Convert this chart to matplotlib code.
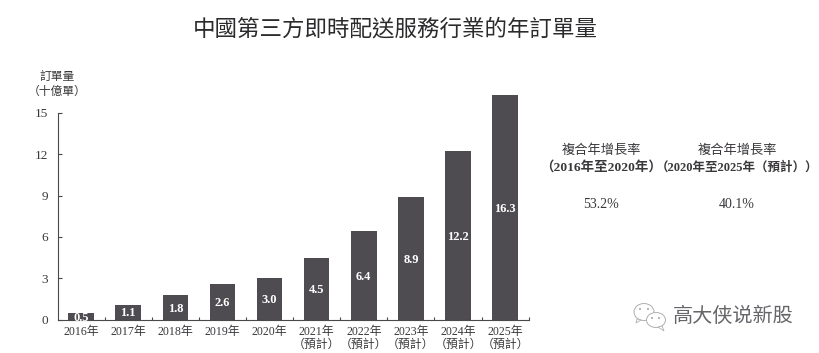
import matplotlib
matplotlib.use("Agg")
import matplotlib.pyplot as plt
from matplotlib.patches import Ellipse, Polygon

plt.rcParams['font.family'] = ['Liberation Serif', 'Noto Sans CJK TC', 'DejaVu Sans']

years = ["2016年", "2017年", "2018年", "2019年", "2020年",
         "2021年\n（預計）", "2022年\n（預計）", "2023年\n（預計）", "2024年\n（預計）", "2025年\n（預計）"]
orders = [0.5, 1.1, 1.8, 2.6, 3.0, 4.5, 6.4, 8.9, 12.2, 16.3]
y_ticks = [0, 3, 6, 9, 12, 15]
title = "中國第三方即時配送服務行業的年訂單量"
y_title = "訂單量\n（十億單）"
cagr_heads = ["複合年增長率\n（2016年至2020年）", "複合年增長率\n（2020年至2025年（預計））"]
cagr_vals = ["53.2%", "40.1%"]
watermark = "高大侠说新股"

W, H = 819, 353
DARK = "#4e4c51"
TEXT = "#3a383b"

fig = plt.figure(figsize=(W / 100, H / 100), dpi=100, facecolor="white")
ax = fig.add_axes([57.5 / W, 1 - 319.7 / H, (528.7 - 57.5) / W, (319.7 - 112.7) / H])

x = list(range(len(orders)))
bars = ax.bar(x, orders, width=0.54, color=DARK, clip_on=False, zorder=2)
for xi, v in zip(x, orders):
    ax.annotate(f"{v:.1f}", (xi, v / 2), xytext=(0, -1), textcoords="offset points",
                ha="center", va="center", color="white",
                fontsize=9, fontweight="bold", zorder=3, annotation_clip=False)

ax.set_xlim(-0.5, 9.5)
ax.set_ylim(0, 15)
for s in ("top", "right"):
    ax.spines[s].set_visible(False)
for s in ("left", "bottom"):
    ax.spines[s].set_color("#4a484b")
    ax.spines[s].set_linewidth(0.8)

ax.set_yticks(y_ticks)
ax.tick_params(axis="y", direction="in", length=3, width=0.8, color="#4a484b",
               labelsize=9.5, labelcolor=TEXT, pad=7)
ax.set_xticks([i - 0.5 for i in range(1, 11)])
ax.set_xticklabels([])
ax.tick_params(axis="x", direction="in", length=2.5, width=0.8, color="#4a484b")
for xi, lab in zip(x, years):
    ax.annotate(lab, (xi, 0), xycoords=("data", "axes fraction"), xytext=(0, -4.5),
                textcoords="offset points", ha="center", va="top", fontsize=8.6,
                color=TEXT, linespacing=1.12, annotation_clip=False)

def fx(px):
    return px / W
def fy(py):
    return 1 - py / H

fig.text(fx(395), fy(29.5), title, ha="center", va="center", fontsize=16.2, color="#2b2a2c")
fig.text(fx(57), fy(85), y_title, ha="center", va="center", fontsize=8.5, color=TEXT, linespacing=1.2)

for cx, head, val, size2 in zip([601, 737], cagr_heads, cagr_vals, [9.7, 9.0]):
    first, second = head.split("\n")
    fig.text(fx(cx), fy(150.5), first, ha="center", va="center", fontsize=9.5, color=TEXT)
    fig.text(fx(cx), fy(167), second, ha="center", va="center", fontsize=size2, color=TEXT, fontweight="bold")
    fig.text(fx(cx), fy(205), val, ha="center", va="center", fontsize=10, color=TEXT)

fig.text(fx(733.5), fy(317), watermark, ha="center", va="center", fontsize=14.5, color="#66666a",
         family=["Noto Sans CJK SC", "DejaVu Sans"], fontweight="light")

# WeChat-style watermark icon
ico = fig.add_axes([0, 0, 1, 1], facecolor="none")
ico.set_xlim(0, W)
ico.set_ylim(H, 0)
ico.axis("off")
ec = "#b0b0b4"
ico.add_patch(Ellipse((644, 312), 20, 17, fill=False, ec=ec, lw=0.7))
ico.add_patch(Ellipse((656, 320), 19, 15, fc="white", ec=ec, lw=0.7))
ico.add_patch(Polygon([(662, 326), (664, 331), (658, 327)], closed=True, fc="white", ec=ec, lw=0.6))
ico.add_patch(Polygon([(637, 319), (636, 323), (641, 320)], closed=True, fc="white", ec=ec, lw=0.6))
for px, py in [(640, 309), (648, 309), (652, 318), (659, 318)]:
    ico.add_patch(Ellipse((px, py), 2.2, 2.2, fc=ec, ec="none"))

fig.savefig("out.png", dpi=100)
